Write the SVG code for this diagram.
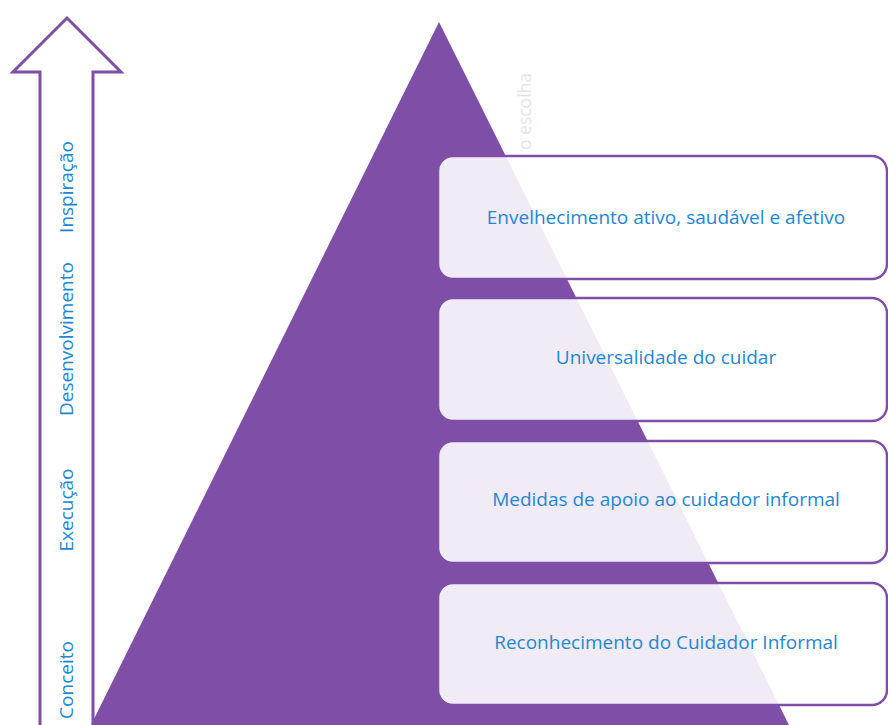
<svg xmlns="http://www.w3.org/2000/svg" width="888" height="725" viewBox="0 0 888 725">
<style>
.box{fill:#ffffff;fill-opacity:0.89;stroke:#7f4fa8;stroke-width:2.5}
.lbl{font-family:"Open Sans","Liberation Sans",Arial,sans-serif;font-size:19px;fill:#1f87d3;text-anchor:middle}
.side{font-family:"Open Sans","Liberation Sans",Arial,sans-serif;font-size:19px;fill:#1f87d3;text-anchor:middle}
</style>
<rect width="888" height="725" fill="#ffffff"/>
<g id="arrow">
<polygon points="67,18 121,72 93,72 93,727 40,727 40,72 13,72" fill="#ffffff" stroke="#7f4fa8" stroke-width="3" stroke-linejoin="miter"/>
<text class="side" transform="translate(73,187) rotate(-90)">Inspiração</text>
<text class="side" transform="translate(73,339) rotate(-90)">Desenvolvimento</text>
<text class="side" transform="translate(73,510) rotate(-90)">Execução</text>
<text class="side" transform="translate(73,680) rotate(-90)">Conceito</text>
</g>
<g id="pyramid">
<polygon points="439,22 90,727 790,727" fill="#7f4fa8"/>
<text transform="translate(531,150) rotate(-90)" font-family="'Open Sans','Liberation Sans',sans-serif" font-size="17.5" fill="#e4e4e4">o escolha</text>
</g>
<g id="level4">
<rect class="box" x="438" y="156" width="449" height="123" rx="15"/>
<text class="lbl" x="666" y="224">Envelhecimento ativo, saudável e afetivo</text>
</g>
<g id="level3">
<rect class="box" x="438" y="298" width="449" height="123" rx="15"/>
<text class="lbl" x="666" y="364">Universalidade do cuidar</text>
</g>
<g id="level2">
<rect class="box" x="438" y="441" width="449" height="122" rx="15"/>
<text class="lbl" x="666" y="506">Medidas de apoio ao cuidador informal</text>
</g>
<g id="level1">
<rect class="box" x="438" y="583" width="449" height="122" rx="15"/>
<text class="lbl" x="666" y="649">Reconhecimento do Cuidador Informal</text>
</g>
</svg>
